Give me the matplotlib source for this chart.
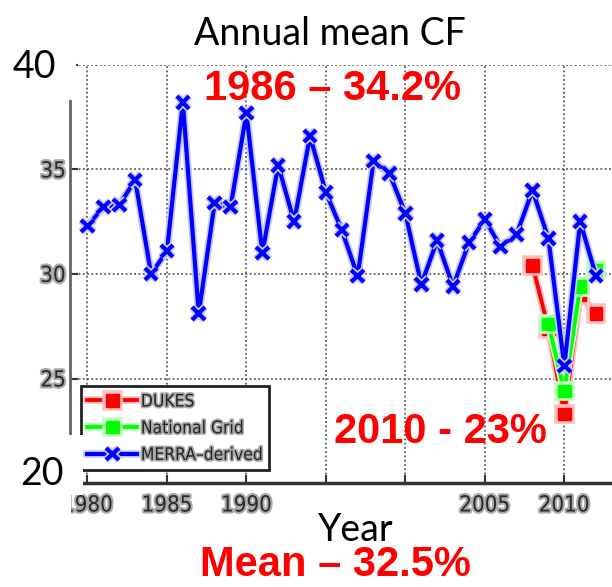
import matplotlib
matplotlib.use('Agg')
import matplotlib.pyplot as plt
import matplotlib.patheffects as pe
from matplotlib.patches import Rectangle

# ---------------- data ----------------
merra_years = list(range(1980, 2013))
merra_cf = [32.3, 33.2, 33.3, 34.5, 30.0, 31.1, 38.2, 28.1, 33.4, 33.2,
            37.7, 31.0, 35.2, 32.5, 36.6, 33.9, 32.1, 29.9, 35.4, 34.8,
            32.9, 29.5, 31.6, 29.4, 31.5, 32.6, 31.3, 31.9, 34.0, 31.7,
            25.6, 32.5, 29.9]
dukes_years = [2008, 2009, 2010, 2011, 2012]
dukes_cf = [30.4, 27.4, 23.3, 29.0, 28.1]
ng_years = [2009, 2010, 2011, 2012]
ng_cf = [27.6, 24.4, 29.4, 30.2]

series_labels = ['DUKES', 'National Grid', 'MERRA\u2013derived']
xtick_values = [1980, 1985, 1990, 1995, 2000, 2005, 2010]
xtick_labels = ['1980', '1985', '1990', '', '', '2005', '2010']
ytick_values = [20, 25, 30, 35, 40]
ytick_labels = ['', '25', '30', '35', '']

title_text = 'Annual mean CF'
xlabel_text = 'Year'
ymax_text = '40'
ymin_text = '20'
note_peak = '1986 \u2013 34.2%'
note_low = '2010 - 23%'
note_mean = 'Mean \u2013 32.5%'

# ---------------- figure ----------------
W, H = 612, 587
fig = plt.figure(figsize=(W / 100, H / 100), dpi=100)
ax = fig.add_axes([70 / W, 1 - 483 / H, 542 / W, 418 / H])

tick_font = ['Liberation Sans Narrow', 'DejaVu Sans', 'Liberation Sans']
halo = lambda c, w: [pe.Stroke(linewidth=w, foreground=c), pe.Normal()]

ax.plot(dukes_years, dukes_cf, color='#ff0000', lw=2.8, marker='s', ms=9,
        mfc='#ff0000', mec='#ff0000', label=series_labels[0], zorder=3,
        path_effects=halo('#ffc0c0', 5.5))
ax.plot(ng_years, ng_cf, color='#00ff00', lw=2.8, marker='s', ms=9,
        mfc='#00ff00', mec='#00ff00', label=series_labels[1], zorder=4,
        path_effects=halo('#c0ffc0', 5.5))
ax.plot(merra_years, merra_cf, color='#0000ff', lw=3.0, marker='x', ms=9,
        mew=3, label=series_labels[2], zorder=5,
        path_effects=halo('#c8c8ff', 5.5))

ax.set_xlim(1978.9, 2013.0)
ax.set_ylim(20, 40)
ax.set_xticks(xtick_values)
ax.set_xticklabels(xtick_labels)
ax.set_yticks(ytick_values)
ax.set_yticklabels(ytick_labels)
ax.grid(True, linestyle=(0, (1.2, 1.6)), color='#444444', lw=1.1)
ax.set_axisbelow(True)

ax.tick_params(direction='in', length=6, width=1.5, color='#333333',
               labelcolor='#2a2a2a', labelsize=16)
ax.tick_params(axis='x', pad=9)
ax.tick_params(axis='y', pad=3)
for lab in ax.get_xticklabels() + ax.get_yticklabels():
    lab.set_family(tick_font)
    lab.set_stretch('condensed')
    lab.set_path_effects(halo('#aaaaaa', 3))

for s in ['top', 'right']:
    ax.spines[s].set_visible(False)
ax.spines['left'].set_color('#666666')
ax.spines['left'].set_linewidth(2)
ax.spines['bottom'].set_color('#333333')
ax.spines['bottom'].set_linewidth(2.5)

leg = ax.legend(loc='lower left', bbox_to_anchor=(11 / 542, 13 / 418),
                borderaxespad=0, frameon=True, fancybox=False,
                edgecolor='#222222', framealpha=1, handlelength=2.9,
                labelspacing=0.5, borderpad=0.35, handletextpad=0.2,
                prop={'family': tick_font, 'size': 12.5,
                      'stretch': 'condensed'})
leg.get_frame().set_linewidth(2.0)
for t in leg.get_texts():
    t.set_color('#222222')
    t.set_path_effects(halo('#aaaaaa', 2.5))
leg.set_zorder(6)

# ---------------- overlay boxes and texts ----------------
def box(x0, y0, x1, y1):
    fig.patches.append(Rectangle((x0 / W, 1 - y1 / H), (x1 - x0) / W,
                                 (y1 - y0) / H, transform=fig.transFigure,
                                 facecolor='white', edgecolor='none',
                                 zorder=10))

box(0, 0, 76, 100)
box(0, 435, 83, 495)
box(0, 495, 71, 525)

def ftxt(x, y, s, **kw):
    fig.text(x / W, 1 - y / H, s, zorder=11, **kw)

cal = ['Lato', 'Open Sans', 'DejaVu Sans']
ftxt(330, 45, title_text, ha='center', va='baseline', family=cal,
     size=27, color='black')
ftxt(34, 78, ymax_text, ha='center', va='baseline', family=cal,
     size=27, color='black')
ftxt(42, 485, ymin_text, ha='center', va='baseline', family=cal,
     size=27, color='black')
ftxt(356, 541, xlabel_text, ha='center', va='baseline', family=cal,
     size=27, color='black')

arial = ['Liberation Sans', 'DejaVu Sans']
ftxt(332, 100, note_peak, ha='center', va='baseline', family=arial,
     size=30, weight='bold', color='#ff0000')
ftxt(440, 443, note_low, ha='center', va='baseline', family=arial,
     size=30, weight='bold', color='#ff0000')
ftxt(335, 576, note_mean, ha='center', va='baseline', family=arial,
     size=30, weight='bold', color='#ff0000')

fig.savefig('out.png', dpi=100)
